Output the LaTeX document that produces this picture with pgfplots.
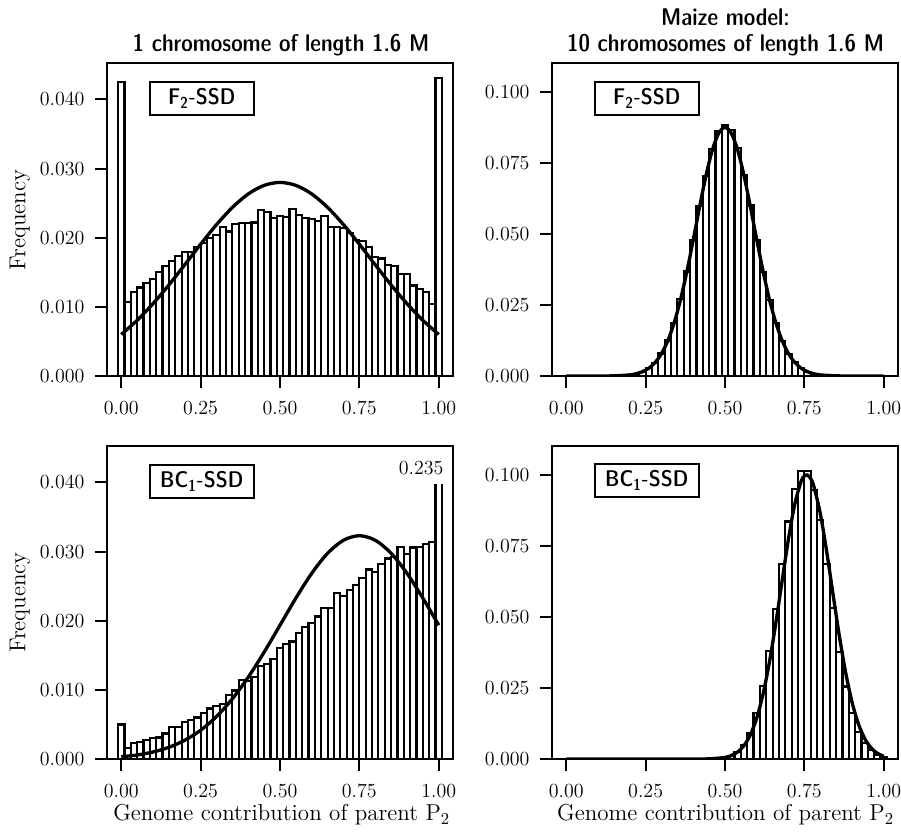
\documentclass[border=0pt]{standalone}
\usepackage{pgfplots}
\pgfplotsset{compat=1.18}
\newcommand\tf{\fontsize{13.8}{16}\selectfont}
\newcommand\nf{\fontsize{12}{15}\selectfont}
\newcommand\hf{\fontsize{14.5}{17}\selectfont\sffamily\fontseries{sbc}\selectfont}
\newcommand\boxf{\fontsize{13.6}{16}\selectfont\sffamily\fontseries{sbc}\selectfont}
\pgfplotsset{
  histo/.style={
    scale only axis, width=207.6pt, height=187.5pt,
    anchor=south west,
    xmin=-0.045, xmax=1.045, ymin=0,
    axis line style={line width=1.2pt},
    tick pos=left, tick align=outside,
    major tick length=7pt,
    major tick style={line width=1.2pt, black},
    xtick={0,0.25,0.5,0.75,1},
    scaled x ticks=false, scaled y ticks=false,
    tick label style={font=\nf},
    xticklabel style={yshift=-5pt, /pgf/number format/.cd, fixed, fixed zerofill, precision=2},
    yticklabel style={xshift=-3pt, /pgf/number format/.cd, fixed, fixed zerofill, precision=3},
  },
  bars/.style={ybar, bar width=0.02, draw=black, fill=white, line width=1.3pt},
  curve/.style={smooth, line width=2pt, black, mark=none},
}
\tikzset{
  lbl/.style={draw, line width=1.2pt, fill=white, inner sep=0pt,
    minimum width=62.4pt, minimum height=19.8pt, font=\boxf},
}
\begin{document}
\begin{tikzpicture}
\useasboundingbox (0pt,0pt) rectangle (540.6pt,-499.2pt);

% top left: 1 chromosome, F2-SSD
\begin{axis}[histo, at={(64.2pt,-225.6pt)}, ymax=0.0452,
  ytick={0,0.01,0.02,0.03,0.04}]
\addplot[bars] coordinates {
 (0.00,0.0425)(0.02,0.0107)(0.04,0.0122)(0.06,0.0128)(0.08,0.0134)(0.10,0.0140)
 (0.12,0.0151)(0.14,0.0159)(0.16,0.0166)(0.18,0.0173)(0.20,0.0179)(0.22,0.0179)
 (0.24,0.0187)(0.26,0.0192)(0.28,0.0200)(0.30,0.0204)(0.32,0.0216)(0.34,0.0209)
 (0.36,0.0220)(0.38,0.0221)(0.40,0.0221)(0.42,0.0222)(0.44,0.0240)(0.46,0.0237)
 (0.48,0.0229)(0.50,0.0231)(0.52,0.0230)(0.54,0.0241)(0.56,0.0233)(0.58,0.0228)
 (0.60,0.0227)(0.62,0.0224)(0.64,0.0231)(0.66,0.0215)(0.68,0.0215)(0.70,0.0214)
 (0.72,0.0207)(0.74,0.0197)(0.76,0.0195)(0.78,0.0186)(0.80,0.0172)(0.82,0.0170)
 (0.84,0.0161)(0.86,0.0159)(0.88,0.0148)(0.90,0.0148)(0.92,0.0131)(0.94,0.0126)
 (0.96,0.0121)(0.98,0.0104)(1.00,0.0431)};
\addplot[curve] coordinates {
 (0.00,0.00601)(0.05,0.00805)(0.10,0.01046)(0.15,0.01317)(0.20,0.01609)
 (0.25,0.01906)(0.30,0.02189)(0.35,0.02438)(0.40,0.02633)(0.45,0.02757)
 (0.50,0.02800)(0.55,0.02757)(0.60,0.02633)(0.65,0.02438)(0.70,0.02189)
 (0.75,0.01906)(0.80,0.01609)(0.85,0.01317)(0.90,0.01046)(0.95,0.00805)
 (1.00,0.00601)};
\node[lbl] at (rel axis cs:0.274,0.888) {F\textsubscript{2}-SSD};
\end{axis}

% top right: maize model, F2-SSD
\begin{axis}[histo, at={(331.2pt,-225.6pt)}, ymax=0.110,
  ytick={0,0.025,0.05,0.075,0.1}]
\addplot[bars] coordinates {
 (0.00,0)(0.02,0)(0.04,0)(0.06,0)(0.08,0)(0.10,0)(0.12,0)(0.14,0)
 (0.16,0.0001)(0.18,0.0002)(0.20,0.0004)(0.22,0.0008)(0.24,0.0015)(0.26,0.0027)
 (0.28,0.0047)(0.30,0.0079)(0.32,0.0125)(0.34,0.0188)(0.36,0.0270)(0.38,0.0368)
 (0.40,0.0478)(0.42,0.0598)(0.44,0.0705)(0.46,0.0800)(0.48,0.0862)(0.50,0.0884)
 (0.52,0.0866)(0.54,0.0803)(0.56,0.0708)(0.58,0.0600)(0.60,0.0480)(0.62,0.0366)
 (0.64,0.0268)(0.66,0.0186)(0.68,0.0124)(0.70,0.0078)(0.72,0.0048)(0.74,0.0028)
 (0.76,0.0015)(0.78,0.0008)(0.80,0.0004)(0.82,0.0002)(0.84,0.0001)(0.86,0)
 (0.88,0)(0.90,0)(0.92,0)(0.94,0)(0.96,0)(0.98,0)(1.00,0)};
\addplot[curve] coordinates {
 (0.00,0)(0.10,0.000006)(0.15,0.00006)(0.20,0.00039)(0.22,0.00079)(0.24,0.00150)
 (0.26,0.00274)(0.28,0.00477)(0.30,0.00790)(0.32,0.01248)(0.34,0.01878)
 (0.36,0.02693)(0.38,0.03682)(0.40,0.04797)(0.42,0.05956)(0.44,0.07047)
 (0.46,0.07948)(0.48,0.08542)(0.50,0.08750)(0.52,0.08542)(0.54,0.07948)
 (0.56,0.07047)(0.58,0.05956)(0.60,0.04797)(0.62,0.03682)(0.64,0.02693)
 (0.66,0.01878)(0.68,0.01248)(0.70,0.00790)(0.72,0.00477)(0.74,0.00274)
 (0.76,0.00150)(0.78,0.00079)(0.80,0.00039)(0.85,0.00006)(0.90,0.000006)(1.00,0)};
\node[lbl] at (rel axis cs:0.274,0.888) {F\textsubscript{2}-SSD};
\end{axis}

% bottom left: 1 chromosome, BC1-SSD
\begin{axis}[histo, at={(64.2pt,-455.4pt)}, ymax=0.0452,
  ytick={0,0.01,0.02,0.03,0.04}, unbounded coords=jump]
\addplot[bars] coordinates {
 (0.00,0.0050)(0.02,0.0016)(0.04,0.0023)(0.06,0.0025)(0.08,0.0027)(0.10,0.0030)
 (0.12,0.0031)(0.14,0.0037)(0.16,0.0046)(0.18,0.0046)(0.20,0.0054)(0.22,0.0057)
 (0.24,0.0060)(0.26,0.0067)(0.28,0.0073)(0.30,0.0077)(0.32,0.0080)(0.34,0.0092)
 (0.36,0.0099)(0.38,0.0114)(0.40,0.0113)(0.42,0.0119)(0.44,0.0135)(0.46,0.0137)
 (0.48,0.0145)(0.50,0.0160)(0.52,0.0166)(0.54,0.0170)(0.56,0.0182)(0.58,0.0191)
 (0.60,0.0197)(0.62,0.0206)(0.64,0.0219)(0.66,0.0218)(0.68,0.0240)(0.70,0.0236)
 (0.72,0.0245)(0.74,0.0252)(0.76,0.0262)(0.78,0.0274)(0.80,0.0271)(0.82,0.0282)
 (0.84,0.0290)(0.86,0.0292)(0.88,0.0307)(0.90,0.0297)(0.92,0.0306)(0.94,0.0307)
 (0.96,0.0311)(0.98,0.0314)};
% bin at 1.00 (0.235) is cut off
\addplot[black, line width=1.3pt, mark=none] coordinates {
 (0.99,0)(0.99,0.0398)(1.00,nan)(1.01,0.0398)(1.01,0)};
\addplot[curve] coordinates {
 (0.00,0.00032)(0.05,0.00058)(0.10,0.00101)(0.15,0.00169)(0.20,0.00271)
 (0.25,0.00416)(0.30,0.00614)(0.35,0.00871)(0.40,0.01184)(0.45,0.01545)
 (0.50,0.01935)(0.55,0.02327)(0.60,0.02686)(0.65,0.02976)(0.70,0.03164)
 (0.75,0.03230)(0.80,0.03164)(0.85,0.02976)(0.90,0.02686)(0.95,0.02327)
 (1.00,0.01935)};
\node[lbl] at (rel axis cs:0.274,0.888) {BC\textsubscript{1}-SSD};
\node[anchor=base east, font=\fontsize{12}{14}\selectfont, inner sep=0pt] at (axis cs:1.016,0.0411) {$0.235$};
\end{axis}

% bottom right: maize model, BC1-SSD
\begin{axis}[histo, at={(331.2pt,-455.4pt)}, ymax=0.110,
  ytick={0,0.025,0.05,0.075,0.1}]
\addplot[bars] coordinates {
 (0.00,0)(0.02,0)(0.04,0)(0.06,0)(0.08,0)(0.10,0)(0.12,0)(0.14,0)(0.16,0)
 (0.18,0)(0.20,0)(0.22,0)(0.24,0)(0.26,0)(0.28,0)(0.30,0)(0.32,0)(0.34,0)
 (0.36,0)(0.38,0)(0.40,0)(0.42,0)(0.44,0)(0.46,0)(0.48,0.0002)(0.50,0.0005)
 (0.52,0.0011)(0.54,0.0024)(0.56,0.0049)(0.58,0.0090)(0.60,0.0161)(0.62,0.0257)
 (0.64,0.0380)(0.66,0.0527)(0.68,0.0687)(0.70,0.0836)(0.72,0.0951)(0.74,0.1014)
 (0.76,0.1014)(0.78,0.0947)(0.80,0.0840)(0.82,0.0685)(0.84,0.0532)(0.86,0.0378)
 (0.88,0.0255)(0.90,0.0162)(0.92,0.0096)(0.94,0.0056)(0.96,0.0032)(0.98,0.0014)
 (1.00,0.0007)};
\addplot[curve] coordinates {
 (0.00,0)(0.35,0)(0.40,0.000005)(0.45,0.00006)(0.50,0.00056)(0.52,0.00122)
 (0.54,0.00248)(0.56,0.00475)(0.58,0.00854)(0.60,0.01444)(0.62,0.02291)
 (0.64,0.03414)(0.66,0.04777)(0.68,0.06278)(0.70,0.07748)(0.72,0.08981)
 (0.74,0.09776)(0.75,0.09962)(0.76,0.09993)(0.77,0.09868)(0.78,0.09593)
 (0.80,0.08649)(0.82,0.07323)(0.84,0.05822)(0.86,0.04347)(0.88,0.03049)
 (0.90,0.02008)(0.92,0.01242)(0.94,0.00721)(0.96,0.00393)(0.98,0.00201)
 (1.00,0.00097)};
\node[lbl] at (rel axis cs:0.274,0.891) {BC\textsubscript{1}-SSD};
\end{axis}

% titles and axis labels
\node[anchor=base, font=\hf] at (168.6pt,-31.2pt) {1 chromosome of length 1.6 M};
\node[anchor=base, font=\hf] at (435.3pt,-15.2pt) {Maize model:};
\node[anchor=base, font=\hf] at (435.3pt,-31.2pt) {10 chromosomes of length 1.6 M};
\node[rotate=90, font=\tf] at (12pt,-132pt) {Frequency};
\node[rotate=90, font=\tf] at (12pt,-361.5pt) {Frequency};
\node[anchor=base, font=\tf] at (169pt,-492.5pt) {Genome contribution of parent P$_2$};
\node[anchor=base, font=\tf] at (435.3pt,-492.5pt) {Genome contribution of parent P$_2$};
\end{tikzpicture}
\end{document}
